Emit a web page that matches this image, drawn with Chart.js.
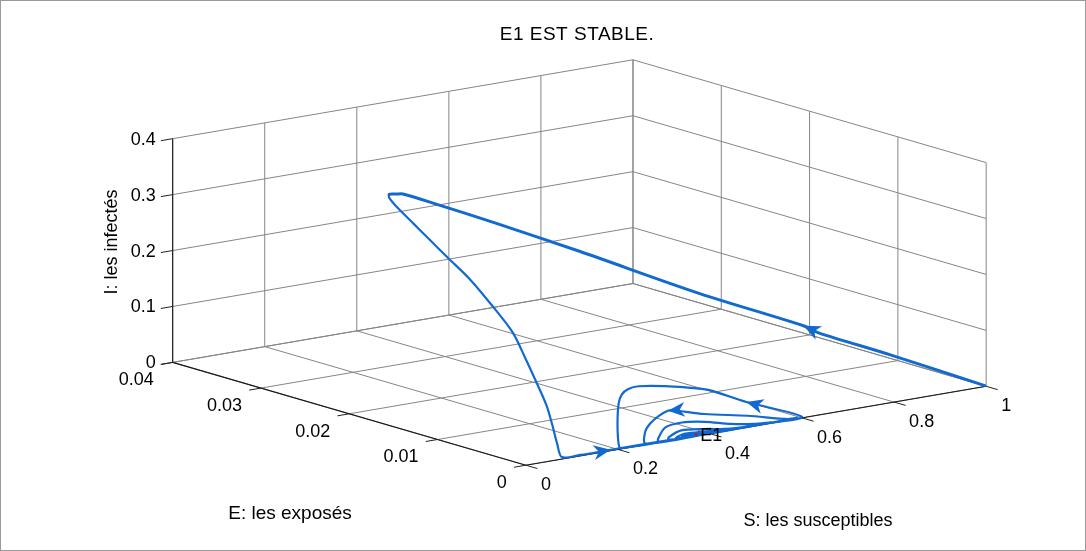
<!DOCTYPE html>
<html>
<head>
<meta charset="utf-8">
<title>E1 EST STABLE.</title>
<script src="https://cdn.jsdelivr.net/npm/chart.js@4/dist/chart.umd.min.js"></script>
<style>
  html, body { margin: 0; padding: 0; background: #fff; }
  #wrap { position: relative; width: 1086px; height: 551px; }
  #frame { position: absolute; left: 0; top: 0; width: 1086px; height: 551px;
           box-sizing: border-box; border: 1px solid #9a9a9a; pointer-events: none; }
  canvas { display: block; }
</style>
</head>
<body>
<div id="wrap">
  <canvas id="myChart" width="1086" height="551"></canvas>
  <div id="frame"></div>
</div>
<script>
// axis limits and ticks
const sLim = [0, 1];
const eLim = [0, 0.04];
const iLim = [0, 0.4];
const sTicks = [0, 0.2, 0.4, 0.6, 0.8, 1];
const eTicks = [0, 0.01, 0.02, 0.03, 0.04];
const iTicks = [0, 0.1, 0.2, 0.3, 0.4];
const sTickLabels = ['0', '0.2', '0.4', '0.6', '0.8', '1'];
const eTickLabels = ['0', '0.01', '0.02', '0.03', '0.04'];
const iTickLabels = ['0', '0.1', '0.2', '0.3', '0.4'];

// trajectory (S, E, I)
const S = [0.999, 0.880, 0.786, 0.772, 0.637, 0.492, 0.384, 0.313, 0.268, 0.256, 0.242, 0.235, 0.233, 0.234, 0.234, 0.235, 0.236, 0.230, 0.219, 0.195, 0.172, 0.148, 0.124, 0.097, 0.082,
  0.120, 0.186, 0.250, 0.400, 0.520, 0.602,
  0.525, 0.477, 0.439, 0.404, 0.354, 0.330, 0.308, 0.286, 0.247, 0.211, 0.208,
  0.350, 0.500, 0.590,
  0.571, 0.503, 0.426, 0.375, 0.364, 0.337, 0.306, 0.282, 0.262,
  0.400, 0.535,
  0.499, 0.457, 0.412, 0.368, 0.328, 0.295, 0.290,
  0.400, 0.493,
  0.462, 0.436, 0.399, 0.353, 0.316, 0.312,
  0.460,
  0.420, 0.381, 0.350, 0.328,
  0.430,
  0.400, 0.370, 0.345, 0.340, 0.410,
  0.390, 0.365, 0.353, 0.360, 0.390, 0.380, 0.370, 0.373];
const E = [0.0001, 0.0046, 0.0079, 0.0088, 0.0136, 0.0195, 0.0237, 0.0263, 0.0279, 0.0280, 0.0281, 0.0277, 0.0267, 0.0249, 0.0230, 0.0212, 0.0186, 0.0158, 0.0129, 0.0102, 0.0078, 0.0054, 0.0035, 0.0015, 0.0002,
  0.0001, 0.0001, 0.0001, 0.0000, 0.0001, 0.0001,
  0.0024, 0.0042, 0.0048, 0.0053, 0.0057, 0.0056, 0.0052, 0.0044, 0.0025, 0.0005, 0.0001,
  0.0000, 0.0000, 0.0001,
  0.0001, 0.0011, 0.0020, 0.0028, 0.0029, 0.0025, 0.0019, 0.0012, 0.0001,
  0.0000, 0.0001,
  0.0002, 0.0006, 0.0012, 0.0015, 0.0013, 0.0004, 0.0001,
  0.0000, 0.0001,
  0.0001, 0.0002, 0.0005, 0.0008, 0.0003, 0.0001,
  0.0001,
  0.0002, 0.0003, 0.0004, 0.0001,
  0.0001,
  0.0002, 0.0003, 0.0002, 0.0001, 0.0001,
  0.0002, 0.0002, 0.0001, 0.0001, 0.0001, 0.0002, 0.0002, 0.0001];
const I = [0.001, 0.052, 0.090, 0.100, 0.155, 0.223, 0.271, 0.301, 0.319, 0.320, 0.321, 0.317, 0.305, 0.284, 0.263, 0.242, 0.213, 0.180, 0.147, 0.116, 0.089, 0.062, 0.040, 0.017, 0.002,
  0.0010, 0.0008, 0.0006, 0.0005, 0.0006, 0.0010,
  0.0278, 0.048, 0.055, 0.060, 0.065, 0.064, 0.059, 0.050, 0.029, 0.006, 0.0010,
  0.0005, 0.0005, 0.0008,
  0.0015, 0.0124, 0.0223, 0.0324, 0.0326, 0.0291, 0.0221, 0.0136, 0.0014,
  0.0005, 0.0007,
  0.0025, 0.0066, 0.0140, 0.0176, 0.0153, 0.0040, 0.0008,
  0.0005, 0.0007,
  0.0012, 0.0024, 0.0061, 0.0087, 0.0039, 0.0008,
  0.0007,
  0.0020, 0.0039, 0.0046, 0.0010,
  0.0008,
  0.0022, 0.0032, 0.0025, 0.0010, 0.0009,
  0.0022, 0.0026, 0.0015, 0.0010, 0.0013, 0.0020, 0.0019, 0.0017];

// arrowheads sit on these trajectory points
const arrowAt = [3, 26, 31, 49];

// equilibrium E1 (S, E, I)
const eqE1 = [0.373, 0.00015, 0.0017];

const blue = 'rgb(18, 106, 208)';

// orthographic 3D view (azimuth / elevation in degrees)
const view = { az: -37.5, el: 13, cx: 579.7, cy: 262.3, side: 584.5, height: 233 };

function project(s, e, i) {
  const a = view.az * Math.PI / 180, b = view.el * Math.PI / 180;
  const u = (s - sLim[0]) / (sLim[1] - sLim[0]) - 0.5;
  const v = (e - eLim[0]) / (eLim[1] - eLim[0]) - 0.5;
  const w = (i - iLim[0]) / (iLim[1] - iLim[0]) - 0.5;
  const x = view.cx + view.side * (u * Math.cos(a) + v * Math.sin(a));
  const up = view.side * Math.sin(b) * (-u * Math.sin(a) + v * Math.cos(a)) + view.height * Math.cos(b) * w;
  return { x: x, y: view.cy - up };
}

function segments(list) {
  const out = [];
  list.forEach(([p, q]) => {
    out.push(project(p[0], p[1], p[2]), project(q[0], q[1], q[2]), { x: null, y: null });
  });
  return out;
}

// grid on the floor and the two back walls
const gridLines = [];
sTicks.forEach(s => {
  gridLines.push([[s, eLim[0], iLim[0]], [s, eLim[1], iLim[0]]]);
  gridLines.push([[s, eLim[1], iLim[0]], [s, eLim[1], iLim[1]]]);
});
eTicks.forEach(e => {
  gridLines.push([[sLim[0], e, iLim[0]], [sLim[1], e, iLim[0]]]);
  gridLines.push([[sLim[1], e, iLim[0]], [sLim[1], e, iLim[1]]]);
});
iTicks.forEach(i => {
  gridLines.push([[sLim[0], eLim[1], i], [sLim[1], eLim[1], i]]);
  gridLines.push([[sLim[1], eLim[0], i], [sLim[1], eLim[1], i]]);
});

const axisLines = [
  [[sLim[0], eLim[0], iLim[0]], [sLim[1], eLim[0], iLim[0]]],
  [[sLim[0], eLim[0], iLim[0]], [sLim[0], eLim[1], iLim[0]]],
  [[sLim[0], eLim[1], iLim[0]], [sLim[0], eLim[1], iLim[1]]]
];

const font = '"Liberation Sans", Arial, Helvetica, sans-serif';

const decorations = {
  id: 'decorations',
  afterDatasetsDraw(chart) {
    const ctx = chart.ctx, xs = chart.scales.x, ys = chart.scales.y;
    const at = (s, e, i) => {
      const p = project(s, e, i);
      return { x: xs.getPixelForValue(p.x), y: ys.getPixelForValue(p.y) };
    };
    const unit = (p, q) => {
      const dx = q.x - p.x, dy = q.y - p.y, l = Math.hypot(dx, dy);
      return { x: dx / l, y: dy / l };
    };
    const o = at(sLim[0], eLim[0], iLim[0]);
    const toFrontE = unit(at(sLim[0], eLim[1], iLim[0]), o);   // -E direction
    const toLeftS = unit(at(sLim[1], eLim[0], iLim[0]), o);    // -S direction
    const tickLen = 12;

    ctx.save();
    ctx.strokeStyle = '#222';
    ctx.lineWidth = 1;
    ctx.fillStyle = '#000';
    ctx.font = '18px ' + font;

    // S axis
    ctx.textAlign = 'left';
    ctx.textBaseline = 'middle';
    sTicks.forEach((s, k) => {
      const p = at(s, eLim[0], iLim[0]);
      ctx.beginPath();
      ctx.moveTo(p.x, p.y);
      ctx.lineTo(p.x + toFrontE.x * tickLen, p.y + toFrontE.y * tickLen);
      ctx.stroke();
      ctx.fillText(sTickLabels[k], p.x + 15, p.y + 20);
    });

    // E axis
    ctx.textAlign = 'right';
    eTicks.forEach((e, k) => {
      const p = at(sLim[0], e, iLim[0]);
      ctx.beginPath();
      ctx.moveTo(p.x, p.y);
      ctx.lineTo(p.x + toLeftS.x * tickLen, p.y + toLeftS.y * tickLen);
      ctx.stroke();
      ctx.fillText(eTickLabels[k], p.x - 19, p.y + 18);
    });

    // I axis
    iTicks.forEach((i, k) => {
      const p = at(sLim[0], eLim[1], i);
      ctx.beginPath();
      ctx.moveTo(p.x, p.y);
      ctx.lineTo(p.x + toLeftS.x * tickLen, p.y + toLeftS.y * tickLen);
      ctx.stroke();
      ctx.fillText(iTickLabels[k], p.x - 17, p.y + 1);
    });

    // axis titles
    ctx.textAlign = 'center';
    ctx.font = '19px ' + font;
    ctx.fillText('E: les exposés', 290, 514);
    ctx.font = '18px ' + font;
    ctx.fillText('S: les susceptibles', 818, 521);
    ctx.save();
    ctx.translate(112, 242);
    ctx.rotate(-Math.PI / 2);
    ctx.fillText('I: les infectés', 0, 0);
    ctx.restore();

    // title
    ctx.font = '19px ' + font;
    if ('letterSpacing' in ctx) ctx.letterSpacing = '0.5px';
    ctx.fillText('E1 EST STABLE.', 577, 35);
    if ('letterSpacing' in ctx) ctx.letterSpacing = '0px';

    // equilibrium label
    const q = at(eqE1[0], eqE1[1], eqE1[2]);
    ctx.font = '18px ' + font;
    ctx.textAlign = 'left';
    ctx.fillText('E1', q.x + 4, q.y + 2);

    // direction arrows along the trajectory
    ctx.fillStyle = blue;
    arrowAt.forEach(k => {
      const tip = at(S[k], E[k], I[k]);
      const prev = at(S[k - 1], E[k - 1], I[k - 1]);
      const d = unit(prev, tip);
      const n = { x: -d.y, y: d.x };
      const len = 17, half = 7.5, notch = 5;
      ctx.beginPath();
      ctx.moveTo(tip.x, tip.y);
      ctx.lineTo(tip.x - d.x * len + n.x * half, tip.y - d.y * len + n.y * half);
      ctx.lineTo(tip.x - d.x * (len - notch), tip.y - d.y * (len - notch));
      ctx.lineTo(tip.x - d.x * len - n.x * half, tip.y - d.y * len - n.y * half);
      ctx.closePath();
      ctx.fill();
    });
    ctx.restore();
  }
};

const canvas = document.getElementById('myChart');
const ctx = canvas.getContext('2d');
const config = {
  type: 'scatter',
  data: {
    datasets: [
      {
        label: 'E1',
        data: [project(eqE1[0], eqE1[1], eqE1[2])],
        backgroundColor: 'rgb(230, 0, 0)',
        borderWidth: 0,
        pointRadius: 1.3
      },
      {
        label: 'trajectoire',
        data: S.map((s, k) => project(s, E[k], I[k])),
        showLine: true,
        tension: 0.3,
        borderColor: blue,
        borderWidth: 2.2,
        borderJoinStyle: 'round',
        borderCapStyle: 'round',
        pointRadius: 0,
        segment: {
          borderWidth: c => (c.p1DataIndex <= 10 ? 3 : 2.2)
        }
      },
      {
        label: 'axes',
        data: segments(axisLines),
        showLine: true,
        spanGaps: false,
        borderColor: '#1a1a1a',
        borderWidth: 1.1,
        pointRadius: 0
      },
      {
        label: 'grille',
        data: segments(gridLines),
        showLine: true,
        spanGaps: false,
        borderColor: '#858585',
        borderWidth: 1,
        pointRadius: 0
      }
    ]
  },
  options: {
    responsive: false,
    animation: false,
    devicePixelRatio: 1,
    layout: { padding: 0 },
    plugins: { legend: { display: false }, tooltip: { enabled: false } },
    scales: {
      x: { type: 'linear', display: false, min: 0, max: 1086 },
      y: { type: 'linear', display: false, min: 0, max: 551, reverse: true }
    }
  },
  plugins: [decorations]
};

var myChart = new Chart(ctx, config);
</script>
</body>
</html>
